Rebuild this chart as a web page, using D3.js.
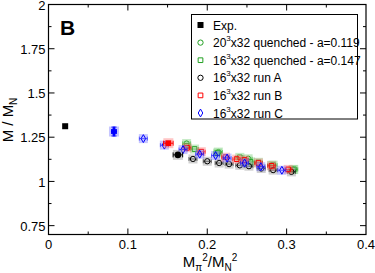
<!DOCTYPE html>
<html>
<head>
<meta charset="utf-8">
<script src="https://cdn.jsdelivr.net/npm/d3@7"></script>
<style>
body { margin: 0; background: #fff; }
text { font-family: "Liberation Sans", Arial, sans-serif; }
</style>
</head>
<body>
<div class="container"></div>
<script>
// values
var expX = [0.021], expY = [1.312];

var q20X = [0.174, 0.214, 0.2515, 0.281, 0.308];
var q20Y = [1.214, 1.166, 1.128, 1.091, 1.067];

var q16X = [0.174, 0.184, 0.213, 0.241, 0.2545, 0.2645, 0.283, 0.309];
var q16Y = [1.200, 1.183, 1.160, 1.136, 1.110, 1.108, 1.092, 1.068];

var runAX = [0.182, 0.200, 0.215, 0.2275, 0.241, 0.2525, 0.268, 0.283, 0.306];
var runAY = [1.127, 1.114, 1.104, 1.098, 1.091, 1.086, 1.073, 1.064, 1.054];

var runBX = [0.1745, 0.1925, 0.223, 0.237, 0.247, 0.2645, 0.281, 0.302];
var runBY = [1.190, 1.168, 1.137, 1.126, 1.121, 1.104, 1.088, 1.068];

var runCX = [0.146, 0.1695, 0.1905, 0.2105, 0.225, 0.247, 0.2675, 0.294, 0.1195];
var runCY = [1.205, 1.180, 1.154, 1.146, 1.132, 1.104, 1.083, 1.063, 1.242];

// filled (extrapolated) points
var extraX = [0.0825, 0.151, 0.163];
var extraY = [1.282, 1.216, 1.150];
var extraXerr = [0.003, 0.006, 0.006];
var extraYerr = [0.025, 0.008, 0.008];

var xTicks = [0, 0.1, 0.2, 0.3, 0.4];
var yTicks = [0.75, 1, 1.25, 1.5, 1.75, 2];

var W = 375, H = 273;
var pLeft = 48.5, pRight = 366, pTop = 4.5, pBottom = 234.5;

var svg = d3.select("div.container").append("svg")
  .attr("width", W).attr("height", H);

var x = d3.scaleLinear().domain([0, 0.4]).range([pLeft, pRight]);
var y = d3.scaleLinear().domain([0.7, 2]).range([pBottom, pTop]);

var minorX = d3.range(0.05, 0.4, 0.1);
var minorY = d3.range(0.875, 2, 0.25);

// frame
svg.append("rect").attr("x", pLeft).attr("y", pTop)
  .attr("width", pRight - pLeft).attr("height", pBottom - pTop)
  .attr("fill", "none").attr("stroke", "#000").attr("stroke-width", 1.2);

var tk = svg.append("g").attr("stroke", "#000").attr("stroke-width", 1);
function tickX(v, len) {
  tk.append("line").attr("x1", x(v)).attr("x2", x(v)).attr("y1", pBottom).attr("y2", pBottom - len);
  tk.append("line").attr("x1", x(v)).attr("x2", x(v)).attr("y1", pTop).attr("y2", pTop + len);
}
function tickY(v, len) {
  tk.append("line").attr("y1", y(v)).attr("y2", y(v)).attr("x1", pLeft).attr("x2", pLeft + len);
  tk.append("line").attr("y1", y(v)).attr("y2", y(v)).attr("x1", pRight).attr("x2", pRight - len);
}
xTicks.slice(1, -1).forEach(function(v) { tickX(v, 6); });
minorX.forEach(function(v) { tickX(v, 3); });
yTicks.slice(0, -1).forEach(function(v) { tickY(v, 6); });
minorY.forEach(function(v) { tickY(v, 3); });

svg.append("g").selectAll("text").data(xTicks).enter().append("text")
  .attr("x", function(d) { return x(d); }).attr("y", 249)
  .attr("text-anchor", "middle").attr("font-size", 13)
  .text(function(d) { return d === 0 ? "0" : d3.format(".1f")(d); });

svg.append("g").selectAll("text").data(yTicks).enter().append("text")
  .attr("x", 45.5).attr("y", function(d) { return y(d) + 5.2; })
  .attr("text-anchor", "end").attr("font-size", 13)
  .text(function(d) { return d3.format("~g")(d); });

// axis titles
var xt = svg.append("text").attr("x", 210).attr("y", 267)
  .attr("text-anchor", "middle").attr("font-size", 15);
xt.append("tspan").text("M");
xt.append("tspan").attr("font-size", 10).attr("dy", 4).text("π");
xt.append("tspan").attr("font-size", 10).attr("dy", -10).text("2");
xt.append("tspan").attr("dy", 6).text("/M");
xt.append("tspan").attr("font-size", 10).attr("dy", 4).text("N");
xt.append("tspan").attr("font-size", 10).attr("dy", -10).text("2");

var yt = svg.append("text").attr("transform", "translate(13,120) rotate(-90)")
  .attr("text-anchor", "middle").attr("font-size", 15);
yt.append("tspan").text("M / M");
yt.append("tspan").attr("font-size", 10).attr("dy", 4).text("N");

svg.append("text").attr("x", 60).attr("y", 35).attr("font-size", 21)
  .attr("font-weight", "bold").text("B");

// markers
var sym = {
  circle: d3.symbol().type(d3.symbolCircle).size(22),
  square: d3.symbol().type(d3.symbolSquare).size(22),
  diamond: d3.symbol().type(d3.symbolDiamond).size(18)
};

var series = [
  { xs: q20X, ys: q20Y, shape: "circle", color: "#22a022", pale: "#7fd07f" },
  { xs: q16X, ys: q16Y, shape: "square", color: "#22a022", pale: "#7fd07f" },
  { xs: runAX, ys: runAY, shape: "circle", color: "#000", pale: "#999" },
  { xs: runBX, ys: runBY, shape: "square", color: "#f00", pale: "#ff8080" },
  { xs: runCX, ys: runCY, shape: "diamond", color: "#00f", pale: "#8080ff" }
];

var plot = svg.append("g");
series.forEach(function(s) {
  var g = plot.append("g");
  s.xs.forEach(function(xv, i) {
    var cx = x(xv), cy = y(s.ys[i]);
    g.append("rect").attr("x", cx - 4.5).attr("y", cy - 4.5)
      .attr("width", 9).attr("height", 9).attr("fill", s.pale).attr("opacity", 0.45);
    g.append("line").attr("x1", cx - 4).attr("x2", cx + 4).attr("y1", cy).attr("y2", cy)
      .attr("stroke", s.color).attr("stroke-width", 0.8).attr("opacity", 0.7);
    g.append("line").attr("x1", cx - 4).attr("x2", cx - 4).attr("y1", cy - 2).attr("y2", cy + 2)
      .attr("stroke", s.color).attr("stroke-width", 0.8).attr("opacity", 0.7);
    g.append("line").attr("x1", cx + 4).attr("x2", cx + 4).attr("y1", cy - 2).attr("y2", cy + 2)
      .attr("stroke", s.color).attr("stroke-width", 0.8).attr("opacity", 0.7);
    g.append("path").attr("d", sym[s.shape]()).attr("transform", "translate(" + cx + "," + cy + ")")
      .attr("fill", "none").attr("stroke", s.color).attr("stroke-width", 1);
  });
});

// filled points with error bars
var extraShape = ["diamond", "square", "circle"];
var extraColor = ["#00f", "#f00", "#000"];
var extraPale = ["#8080ff", "#ff8080", "#999"];
extraX.forEach(function(xv, i) {
  var cx = x(xv), cy = y(extraY[i]);
  var x0 = x(xv - extraXerr[i]), x1 = x(xv + extraXerr[i]);
  var y0 = y(extraY[i] - extraYerr[i]), y1 = y(extraY[i] + extraYerr[i]);
  plot.append("rect").attr("x", cx - 5).attr("y", cy - 5).attr("width", 10).attr("height", 10)
    .attr("fill", extraPale[i]).attr("opacity", 0.45);
  var e = plot.append("g").attr("stroke", extraColor[i]).attr("stroke-width", 1);
  e.append("line").attr("x1", x0).attr("x2", x1).attr("y1", cy).attr("y2", cy);
  e.append("line").attr("x1", x0).attr("x2", x0).attr("y1", cy - 2.5).attr("y2", cy + 2.5);
  e.append("line").attr("x1", x1).attr("x2", x1).attr("y1", cy - 2.5).attr("y2", cy + 2.5);
  e.append("line").attr("x1", cx).attr("x2", cx).attr("y1", y0).attr("y2", y1);
  e.append("line").attr("x1", cx - 2.5).attr("x2", cx + 2.5).attr("y1", y0).attr("y2", y0);
  e.append("line").attr("x1", cx - 2.5).attr("x2", cx + 2.5).attr("y1", y1).attr("y2", y1);
  plot.append("path").attr("d", d3.symbol().type(
      extraShape[i] === "diamond" ? d3.symbolDiamond : extraShape[i] === "square" ? d3.symbolSquare : d3.symbolCircle
    ).size(34)())
    .attr("transform", "translate(" + cx + "," + cy + ")").attr("fill", extraColor[i]);
});

// experiment
expX.forEach(function(xv, i) {
  plot.append("rect").attr("x", x(xv) - 3).attr("y", y(expY[i]) - 3)
    .attr("width", 6).attr("height", 6).attr("fill", "#000");
});

// legend
var legend = svg.append("g");
legend.append("rect").attr("x", 191.5).attr("y", 14.5).attr("width", 166).attr("height", 104.5)
  .attr("fill", "#fff").attr("stroke", "#000").attr("stroke-width", 1);

var legendRows = [
  { base: "", sup: "", rest: "Exp.", shape: "exp", color: "#000" },
  { base: "20", sup: "3", rest: "x32 quenched - a=0.119", shape: "circle", color: "#22a022" },
  { base: "16", sup: "3", rest: "x32 quenched - a=0.147", shape: "square", color: "#22a022" },
  { base: "16", sup: "3", rest: "x32 run A", shape: "circle", color: "#000" },
  { base: "16", sup: "3", rest: "x32 run B", shape: "square", color: "#f00" },
  { base: "16", sup: "3", rest: "x32 run C", shape: "diamond", color: "#00f" }
];
legendRows.forEach(function(r, i) {
  var ly = 25 + i * 17.6;
  if (r.shape === "exp") {
    legend.append("rect").attr("x", 197.5).attr("y", ly - 3).attr("width", 6).attr("height", 6).attr("fill", "#000");
  } else {
    legend.append("path").attr("d", sym[r.shape]()).attr("transform", "translate(200.5," + ly + ")")
      .attr("fill", "none").attr("stroke", r.color).attr("stroke-width", 1);
  }
  var t = legend.append("text").attr("x", 213).attr("y", ly + 4.5).attr("font-size", 12)
    .attr("textLength", null);
  if (r.base) {
    t.append("tspan").text(r.base);
    t.append("tspan").attr("font-size", 8).attr("dy", -6).text(r.sup);
    t.append("tspan").attr("dy", 6).text(r.rest);
  } else {
    t.text(r.rest);
  }
});
</script>
</body>
</html>
